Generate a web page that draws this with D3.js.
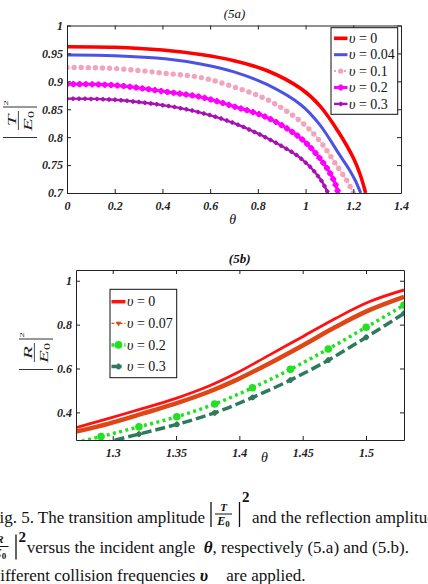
<!DOCTYPE html>
<html>
<head>
<meta charset="utf-8">
<script src="https://cdn.jsdelivr.net/npm/d3@7"></script>
<style>
  html, body { margin: 0; padding: 0; background: #fff; }
  svg { display: block; }
</style>
</head>
<body>
<svg id="fig" width="428" height="584"></svg>
<script>
// (5a) |T/E0|^2 versus theta, one pair of arrays per collision frequency
const thetaA_v0   = [0, 0.2, 0.4, 0.56, 0.7, 0.84, 0.98, 1.06, 1.14, 1.2, 1.228, 1.252];
const transA_v0   = [0.962, 0.961, 0.956, 0.948, 0.937, 0.919, 0.887, 0.856, 0.808, 0.763, 0.734, 0.7];
const thetaA_v004 = [0, 0.2, 0.42, 0.56, 0.7, 0.84, 0.98, 1.06, 1.14, 1.186, 1.21, 1.231];
const transA_v004 = [0.947, 0.946, 0.940, 0.931, 0.917, 0.894, 0.858, 0.822, 0.770, 0.740, 0.721, 0.7];
const thetaA_v01  = [0, 0.2, 0.42, 0.56, 0.7, 0.84, 0.98, 1.06, 1.14, 1.175, 1.2];
const transA_v01  = [0.925, 0.923, 0.914, 0.907, 0.890, 0.867, 0.828, 0.793, 0.743, 0.721, 0.7];
const thetaA_v02  = [0, 0.2, 0.42, 0.56, 0.7, 0.84, 0.98, 1.06, 1.115, 1.137];
const transA_v02  = [0.895, 0.893, 0.881, 0.872, 0.855, 0.835, 0.798, 0.762, 0.726, 0.7];
const thetaA_v03  = [0, 0.2, 0.42, 0.56, 0.7, 0.84, 0.98, 1.06, 1.094];
const transA_v03  = [0.869, 0.867, 0.856, 0.844, 0.825, 0.798, 0.762, 0.726, 0.7];

// (5b) |R/E0|^2 versus theta
const thetaB_v0   = [1.271, 1.297, 1.324, 1.350, 1.376, 1.3974, 1.4236, 1.45, 1.4762, 1.5025, 1.53];
const reflB_v0    = [0.330, 0.373, 0.418, 0.464, 0.520, 0.578, 0.661, 0.745, 0.829, 0.904, 0.958];
const thetaB_v007 = [1.271, 1.297, 1.324, 1.350, 1.376, 1.3974, 1.4236, 1.45, 1.4762, 1.5025, 1.53];
const reflB_v007  = [0.312, 0.349, 0.395, 0.441, 0.494, 0.547, 0.623, 0.705, 0.790, 0.866, 0.927];
const thetaB_v02  = [1.2609, 1.2908, 1.3207, 1.3506, 1.3805, 1.4104, 1.4403, 1.4702, 1.5001, 1.53];
const reflB_v02   = [0.248, 0.290, 0.334, 0.380, 0.438, 0.512, 0.596, 0.689, 0.788, 0.889];
const thetaB_v03  = [1.2908, 1.3207, 1.3506, 1.3805, 1.4104, 1.4403, 1.4702, 1.5001, 1.53];
const reflB_v03   = [0.257, 0.301, 0.345, 0.398, 0.468, 0.547, 0.638, 0.742, 0.851];

// ticks and legend labels
const ticksAx = [0, 0.2, 0.4, 0.6, 0.8, 1, 1.2, 1.4];
const ticksAy = [0.7, 0.75, 0.8, 0.85, 0.9, 0.95, 1];
const ticksBx = [1.3, 1.35, 1.4, 1.45, 1.5];
const ticksBy = [0.4, 0.6, 0.8, 1];
const legendA = ["0", "0.04", "0.1", "0.2", "0.3"];
const legendB = ["0", "0.07", "0.2", "0.3"];

const SERIF = "'Liberation Serif', 'Times New Roman', serif";
const svg = d3.select("#fig");
const defs = svg.append("defs");

// scales of both panels
const xA = d3.scaleLinear().domain([0, 1.4]).range([67, 401]);
const yA = d3.scaleLinear().domain([0.7, 1]).range([193, 25.5]);
const xB = d3.scaleLinear().domain([1.271, 1.53]).range([76, 404]);
const yB = d3.scaleLinear().domain([0.274, 1.049]).range([440, 270]);

function zip(xs, ys) { return xs.map((d, i) => [d, ys[i]]); }

// Box with inward ticks on all four sides, labels only bottom/left
function draw_axes(x, y, xt, yt) {
    const [x0, x1] = x.range(), [y0, y1] = y.range();
    const fmt = d3.format("~g");
    const g = svg.append("g");
    g.append("g").attr("transform", `translate(0,${y0})`)
        .call(d3.axisBottom(x).tickValues(xt).tickSizeInner(-4).tickSizeOuter(0).tickPadding(8).tickFormat(fmt));
    g.append("g").attr("transform", `translate(0,${y1})`)
        .call(d3.axisTop(x).tickValues(xt).tickSizeInner(-4).tickSizeOuter(0).tickFormat(""));
    g.append("g").attr("transform", `translate(${x0},0)`)
        .call(d3.axisLeft(y).tickValues(yt).tickSizeInner(-4).tickSizeOuter(0).tickPadding(4).tickFormat(fmt));
    g.append("g").attr("transform", `translate(${x1},0)`)
        .call(d3.axisRight(y).tickValues(yt).tickSizeInner(-4).tickSizeOuter(0).tickFormat(""));
    g.selectAll(".domain, .tick line").attr("stroke", "#222").attr("stroke-width", 1);
    g.selectAll("text")
        .attr("font-family", SERIF).attr("font-size", 12)
        .attr("font-weight", "bold").attr("font-style", "italic").attr("fill", "#222");
}

function make_clip(id, x, y) {
    const [x0, x1] = x.range(), [y0, y1] = y.range();
    defs.append("clipPath").attr("id", id).append("rect")
        .attr("x", x0).attr("y", y1).attr("width", x1 - x0).attr("height", y0 - y1);
}

function marker_shape(g, kind, size, color, px, py) {
    if (kind === "circle") {
        g.append("circle").attr("cx", px).attr("cy", py).attr("r", size).attr("fill", color);
    } else if (kind === "blob") {
        // filled circle with a small cross, like a thick matlab '*'
        g.append("circle").attr("cx", px).attr("cy", py).attr("r", size * 0.8).attr("fill", color);
        g.append("path").attr("transform", `translate(${px},${py})`)
            .attr("d", d3.symbol(d3.symbolCross).size(size * size * 1.8)())
            .attr("fill", color);
    } else if (kind === "tri") {
        g.append("path").attr("transform", `translate(${px},${py}) rotate(180)`)
            .attr("d", d3.symbol(d3.symbolTriangle).size(size)())
            .attr("fill", color);
    }
}

// Draw one curve; markers either at data points or spaced along the path
function draw_series(g, x, y, s) {
    const line = d3.line().x(d => x(d[0])).y(d => y(d[1])).curve(d3.curveCatmullRom.alpha(0.5));
    const data = zip(s.theta, s.val);
    const path = g.append("path").attr("d", line(data))
        .attr("fill", "none").attr("stroke", s.color).attr("stroke-width", s.width)
        .attr("stroke-dasharray", s.dash || null);
    if (!s.marker) return;
    const mg = g.append("g");
    if (s.step) {
        const node = path.node();
        const L = node.getTotalLength();
        for (let d = 0; d <= L; d += s.step) {
            const p = node.getPointAtLength(d);
            marker_shape(mg, s.marker, s.msize, s.color, p.x, p.y);
        }
    } else {
        data.forEach(d => marker_shape(mg, s.marker, s.msize, s.color, x(d[0]), y(d[1])));
    }
}

function draw_legend(box, items, labels) {
    const g = svg.append("g");
    g.append("rect").attr("x", box.x).attr("y", box.y).attr("width", box.w).attr("height", box.h)
        .attr("fill", "#fff").attr("stroke", "#111").attr("stroke-width", 1);
    items.forEach((s, i) => {
        const cy = box.y0 + i * box.dy;
        const ls = s.legend || s;
        g.append("line").attr("x1", box.lx0).attr("x2", box.lx1).attr("y1", cy).attr("y2", cy)
            .attr("stroke", s.color).attr("stroke-width", ls.lwidth || s.width)
            .attr("stroke-dasharray", ls.ldash || s.dash || null);
        if (ls.lmarker || s.marker) {
            marker_shape(g, ls.lmarker || s.marker, ls.lmsize || s.msize, s.color, (box.lx0 + box.lx1) / 2, cy);
        }
        const t = g.append("text").attr("x", box.tx).attr("y", cy + 4.6)
            .attr("font-family", SERIF).attr("font-size", 14).attr("fill", "#111");
        t.append("tspan").attr("font-style", "italic").text("\u03c5");
        t.append("tspan").text(" = " + labels[i]);
    });
}

// Rotated |X/E0|^2 label; glyphs squeezed horizontally like the source image
function draw_ylabel(cx, cy, letter) {
    const g = svg.append("g").attr("transform", `translate(${cx},${cy}) rotate(-90) scale(1,0.55)`);
    [-15.5, 15].forEach(u => g.append("line").attr("x1", u).attr("x2", u).attr("y1", -31).attr("y2", 31)
        .attr("stroke", "#333").attr("stroke-width", 1.1));
    g.append("line").attr("x1", -8).attr("x2", 11).attr("y1", -3).attr("y2", -3)
        .attr("stroke", "#333").attr("stroke-width", 1.6);
    g.append("text").attr("x", 1.5).attr("y", -8).attr("text-anchor", "middle")
        .attr("font-family", SERIF).attr("font-size", 21).attr("font-style", "italic").attr("fill", "#222")
        .text(letter);
    const den = g.append("text").attr("x", 1).attr("y", 22).attr("text-anchor", "middle")
        .attr("font-family", SERIF).attr("font-size", 21).attr("fill", "#222");
    den.append("tspan").attr("font-style", "italic").text("E");
    den.append("tspan").attr("font-size", 14).attr("dy", 4).text("0");
    g.append("text").attr("x", 19).attr("y", -21).attr("text-anchor", "middle")
        .attr("font-family", SERIF).attr("font-size", 11).attr("fill", "#222").text("2");
}

function add_text(x, y, size, str, style, weight, anchor) {
    return svg.append("text").attr("x", x).attr("y", y)
        .attr("font-family", SERIF).attr("font-size", size).attr("fill", "#111")
        .attr("font-style", style || null).attr("font-weight", weight || null)
        .attr("text-anchor", anchor || null).text(str);
}

// ---------- panel (5a)
const seriesA = [
    {theta: thetaA_v0,   val: transA_v0,   color: "#ff0000", width: 3.6},
    {theta: thetaA_v004, val: transA_v004, color: "#4a53e6", width: 3},
    {theta: thetaA_v01,  val: transA_v01,  color: "#f4a3bc", width: 1.5, dash: "1.2,5.8",
        marker: "circle", msize: 2.7, step: 7.1, legend: {lwidth: 2, ldash: "2,3"}},
    {theta: thetaA_v02,  val: transA_v02,  color: "#ff00ff", width: 3,
        marker: "blob", msize: 3.4, step: 6.3},
    {theta: thetaA_v03,  val: transA_v03,  color: "#a812b4", width: 2.4,
        marker: "blob", msize: 2.5, step: 6}
];
make_clip("clipA", xA, yA);
const plotA = svg.append("g").attr("clip-path", "url(#clipA)");
seriesA.forEach(s => draw_series(plotA, xA, yA, s));
draw_axes(xA, yA, ticksAx, ticksAy);
draw_legend({x: 331, y: 27.7, w: 66.7, h: 86.6, y0: 38.3, dy: 16.4, lx0: 334, lx1: 347.5, tx: 349},
    seriesA, legendA);
add_text(234.5, 18, 13, "(5a)", "italic", null, "middle");
add_text(232.7, 224, 14, "\u03b8", "italic", null, "middle");
draw_ylabel(20, 122, "T");

// ---------- panel (5b)
const seriesB = [
    {theta: thetaB_v0,   val: reflB_v0,   color: "#ff1111", width: 2.8, legend: {lwidth: 3.5}},
    {theta: thetaB_v007, val: reflB_v007, color: "#df4616", width: 4.5,
        legend: {lwidth: 1.2, ldash: "3,2,1,2", lmarker: "tri", lmsize: 14}},
    {theta: thetaB_v02,  val: reflB_v02,  color: "#22e022", width: 3.5, dash: "3,3.4",
        marker: "circle", msize: 3.8},
    {theta: thetaB_v03,  val: reflB_v03,  color: "#2f7a5c", width: 3.5, dash: "10,4",
        marker: "blob", msize: 3.2}
];
make_clip("clipB", xB, yB);
const plotB = svg.append("g").attr("clip-path", "url(#clipB)");
seriesB.forEach(s => draw_series(plotB, xB, yB, s));
draw_axes(xB, yB, ticksBx, ticksBy);
draw_legend({x: 110, y: 289.3, w: 66.7, h: 88.4, y0: 301.7, dy: 21.6, lx0: 111.5, lx1: 125.5, tx: 127},
    seriesB, legendB);
add_text(239.7, 263, 13, "(5b)", "italic", "bold", "middle");
add_text(264.5, 461.5, 14, "\u03b8", "italic", null, "middle");
draw_ylabel(36, 354, "R");

// ---------- caption
// fraction |X/E0|^2 inline; shift moves it down, supY is the baseline of the "2"
function draw_fraction(fx, base, letter, shift, supY) {
    const b = base + shift;
    const g = svg.append("g").attr("fill", "#111");
    [fx, fx + 28.5].forEach(bx => g.append("line").attr("x1", bx).attr("x2", bx)
        .attr("y1", b - 21).attr("y2", b + 4).attr("stroke", "#111").attr("stroke-width", 1.3));
    g.append("line").attr("x1", fx + 4).attr("x2", fx + 21).attr("y1", b - 9).attr("y2", b - 9)
        .attr("stroke", "#111").attr("stroke-width", 1);
    g.append("text").attr("x", fx + 12.5).attr("y", b - 12.5).attr("text-anchor", "middle")
        .attr("font-family", SERIF).attr("font-size", 11).attr("font-weight", "bold")
        .attr("font-style", "italic").text(letter);
    const den = g.append("text").attr("x", fx + 12.5).attr("y", b + 1.5).attr("text-anchor", "middle")
        .attr("font-family", SERIF).attr("font-size", 12).attr("font-weight", "bold");
    den.append("tspan").attr("font-style", "italic").text("E");
    den.append("tspan").attr("font-size", 9).attr("dy", 2).text("0");
    g.append("text").attr("x", fx + 31).attr("y", base + supY)
        .attr("font-family", SERIF).attr("font-size", 15).attr("font-weight", "bold").text("2");
}

const l1 = add_text(-10, 523, 17, "Fig. 5. The transition amplitude");
const frac1 = -10 + l1.node().getComputedTextLength() + 6;
draw_fraction(frac1, 523, "T", 0, -21);
add_text(frac1 + 41, 523, 17, "and the reflection amplitude");

draw_fraction(-12.5, 553, "R", 2.5, -11.5);
const l2 = add_text(26.7, 553, 17, "versus the incident angle\u00a0 ");
l2.append("tspan").attr("font-weight", "bold").attr("font-style", "italic").text("\u03b8");
l2.append("tspan").text(", respectively (5.a) and (5.b).");

const l3 = add_text(-12, 581, 17, "Different collision frequencies ");
l3.append("tspan").attr("font-weight", "bold").attr("font-style", "italic").text("\u03c5");
l3.append("tspan").attr("dx", 14).text(" are applied.");
</script>
</body>
</html>
